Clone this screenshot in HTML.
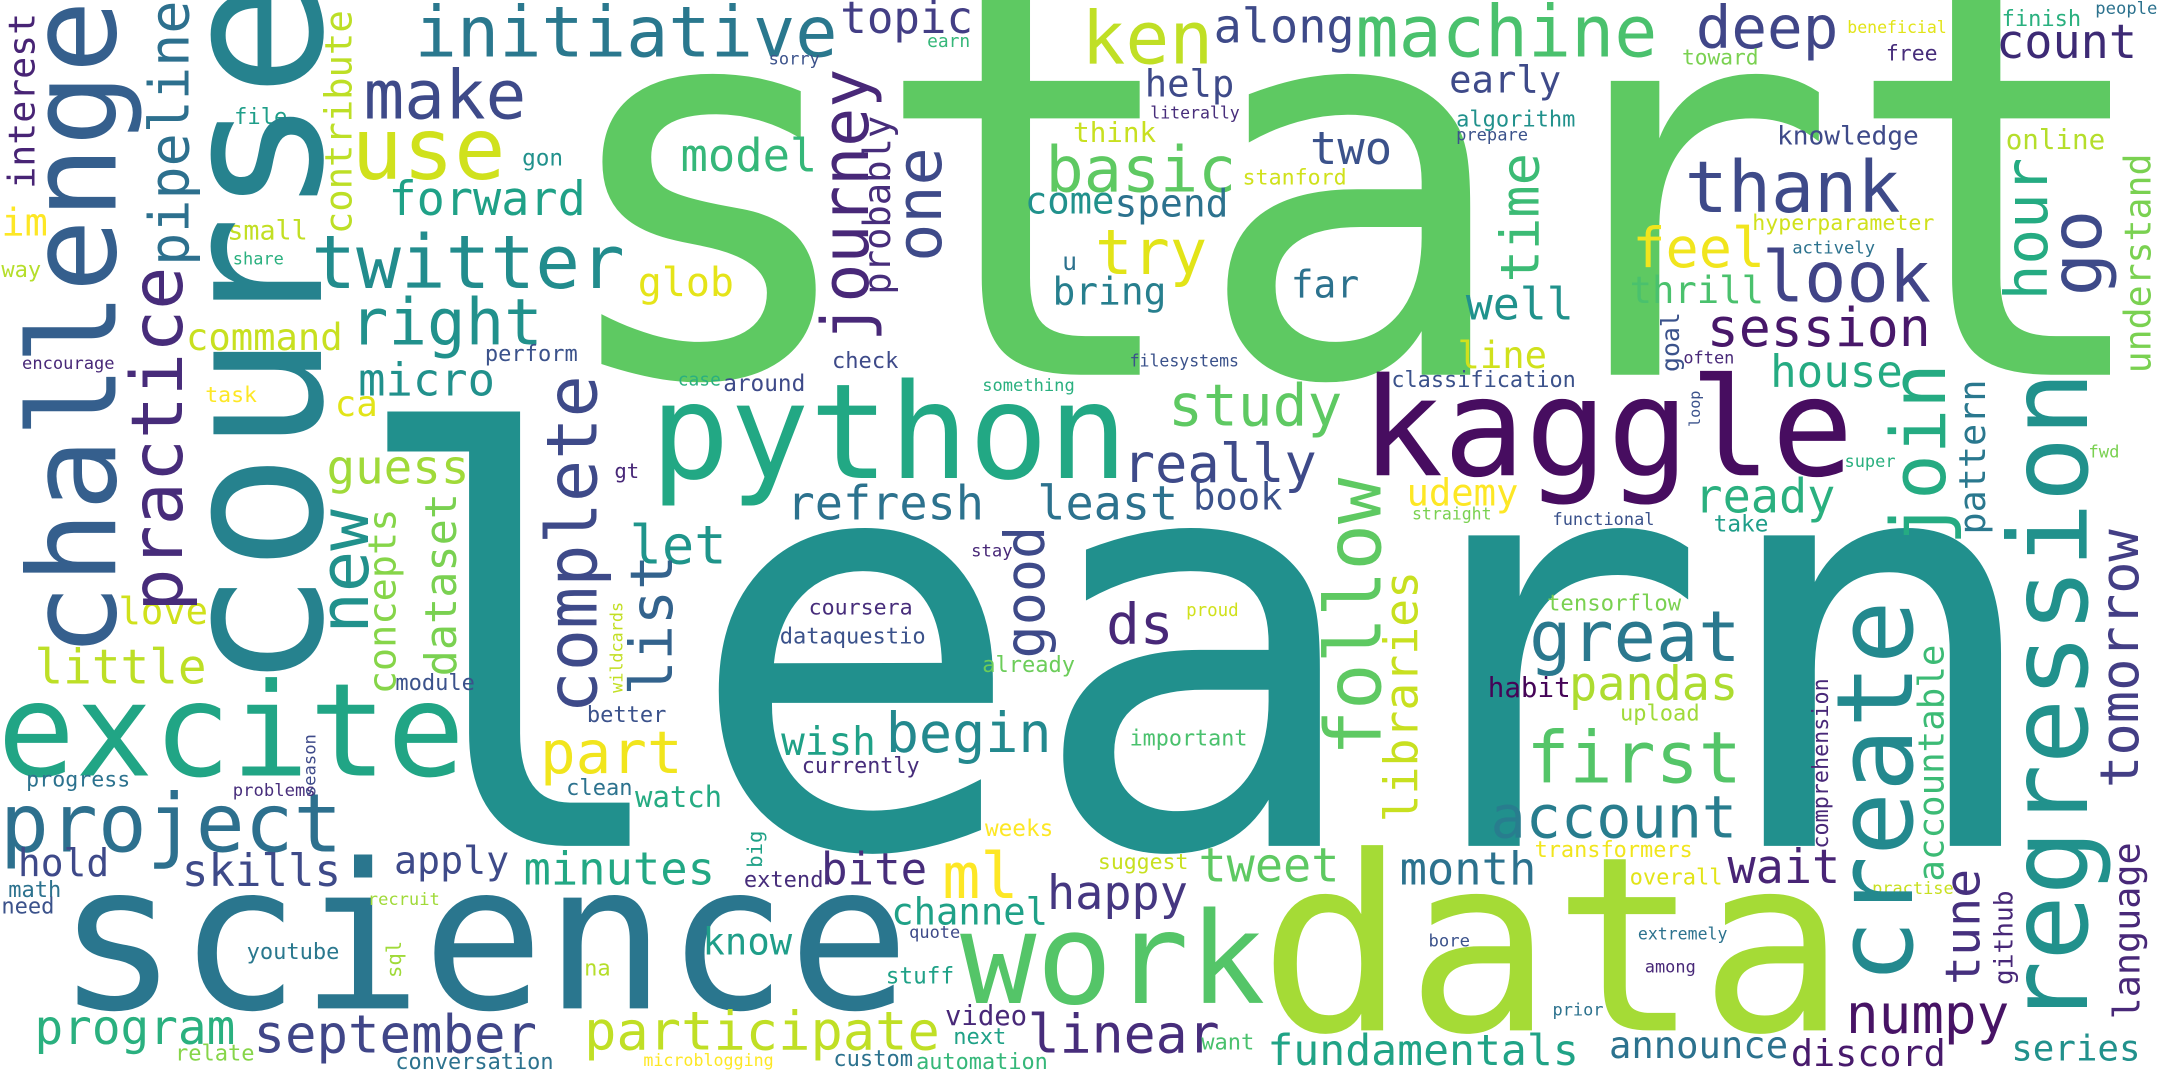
<!DOCTYPE html>
<html><head><meta charset="utf-8"><title>Word cloud</title>
<style>
html,body{margin:0;padding:0;background:#fff;overflow:hidden}
svg{display:block}
text{font-family:"DejaVu Sans Mono","Liberation Mono",monospace;}
</style></head><body>
<svg xmlns="http://www.w3.org/2000/svg" width="2160" height="1080" viewBox="0 0 1568 784">
<rect x="0" y="0" width="1568" height="784" fill="#ffffff"/>
<!-- horizontal words -->
<text x="396" y="272" font-size="390" fill="#5ec962">start</text>
<text x="249" y="614" font-size="412" fill="#21908d">learn</text>
<text x="41" y="732" font-size="147" fill="#2a768e">science</text>
<text x="914" y="748" font-size="177" fill="#a5db36">data</text>
<text x="988" y="345" font-size="99" fill="#470d60">kaggle</text>
<text x="472" y="347" font-size="96" fill="#22a884">python</text>
<text x="-2" y="563" font-size="94" fill="#21a585">excite</text>
<text x="697" y="728" font-size="92" fill="#54c568">work</text>
<text x="0" y="618" font-size="59" fill="#2d708e">project</text>
<text x="226" y="209" font-size="54" fill="#228c8d">twitter</text>
<text x="759" y="139" font-size="46" fill="#5ec962">basic</text>
<text x="1223" y="154" font-size="52" fill="#3e4a89">thank</text>
<text x="984" y="41" font-size="52" fill="#4ac16d">machine</text>
<text x="301" y="41" font-size="51" fill="#2a788e">initiative</text>
<text x="1108" y="568" font-size="52" fill="#54c568">first</text>
<text x="1110" y="480" font-size="51" fill="#2a788e">great</text>
<text x="1279" y="219" font-size="51" fill="#414487">look</text>
<text x="785" y="46" font-size="53" fill="#c0df25">ken</text>
<text x="264" y="86" font-size="49" fill="#3e4a89">make</text>
<text x="255" y="130" font-size="62" fill="#d0e11c">use</text>
<text x="254" y="250" font-size="46.5" fill="#21918c">right</text>
<text x="684" y="652" font-size="46" fill="#fde725">ml</text>
<text x="795" y="199" font-size="45" fill="#e2e418">try</text>
<text x="1231" y="35" font-size="43" fill="#404688">deep</text>
<text x="392" y="561" font-size="43" fill="#f1e51d">part</text>
<text x="1082" y="608" font-size="42.5" fill="#287d8e">account</text>
<text x="848" y="309" font-size="42" fill="#5ec962">study</text>
<text x="803" y="467" font-size="40.6" fill="#482878">ds</text>
<text x="643" y="546" font-size="40" fill="#23898e">begin</text>
<text x="1185" y="194" font-size="40" fill="#f1e51d">feel</text>
<text x="815" y="350" font-size="39" fill="#3e4a89">really</text>
<text x="424" y="762" font-size="39" fill="#c0df25">participate</text>
<text x="1340" y="750" font-size="39.4" fill="#471365">numpy</text>
<text x="1239" y="251" font-size="38.6" fill="#48186a">session</text>
<text x="746" y="764" font-size="38.6" fill="#472d7b">linear</text>
<text x="457" y="409" font-size="39" fill="#1f958b">let</text>
<text x="184" y="764" font-size="38" fill="#404688">september</text>
<text x="571" y="377" font-size="34" fill="#2c728e">refresh</text>
<text x="753" y="377" font-size="34" fill="#2c728e">least</text>
<text x="881" y="31" font-size="34" fill="#3e4a89">along</text>
<text x="1449" y="42" font-size="34" fill="#3d2a75">count</text>
<text x="1230" y="372" font-size="34" fill="#2ab07f">ready</text>
<text x="870" y="640" font-size="34" fill="#5ec962">tweet</text>
<text x="760" y="660" font-size="34" fill="#453781">happy</text>
<text x="1139" y="508" font-size="34" fill="#addc30">pandas</text>
<text x="1254" y="641" font-size="34" fill="#482475">wait</text>
<text x="282" y="156" font-size="34" fill="#1fa187">forward</text>
<text x="237" y="351" font-size="34.5" fill="#a0da39">guess</text>
<text x="25" y="496" font-size="34.6" fill="#bddf26">little</text>
<text x="25" y="758" font-size="34.6" fill="#2ab07f">program</text>
<text x="260" y="287" font-size="33" fill="#21918c">micro</text>
<text x="380" y="642" font-size="33" fill="#22a884">minutes</text>
<text x="1016" y="642" font-size="33" fill="#2c728e">month</text>
<text x="494" y="124" font-size="33" fill="#35b779">model</text>
<text x="951" y="119" font-size="33" fill="#3b528b">two</text>
<text x="1064" y="232" font-size="32.6" fill="#20928c">well</text>
<text x="610" y="24" font-size="32" fill="#433e85">topic</text>
<text x="1285" y="281" font-size="32" fill="#25ab82">house</text>
<text x="132" y="643" font-size="32" fill="#3e4a89">skills</text>
<text x="596" y="642" font-size="32" fill="#472d7b">bite</text>
<text x="920" y="773" font-size="31.3" fill="#20a386">fundamentals</text>
<text x="463" y="215" font-size="29" fill="#e5e419">glob</text>
<text x="567" y="548" font-size="28.6" fill="#1fa187">wish</text>
<text x="1" y="171" font-size="28" fill="#fde725">im</text>
<text x="286" y="634" font-size="27.8" fill="#3e4a89">apply</text>
<text x="13" y="636" font-size="27.5" fill="#3e4989">hold</text>
<text x="809" y="157" font-size="27.5" fill="#2c728e">spend</text>
<text x="764" y="221" font-size="27.5" fill="#277f8e">bring</text>
<text x="937" y="216" font-size="27.5" fill="#2c728e">far</text>
<text x="135" y="254" font-size="27" fill="#c8e020">command</text>
<text x="86" y="453" font-size="27" fill="#d0e11c">love</text>
<text x="831" y="70" font-size="27" fill="#3e4a89">help</text>
<text x="744" y="155" font-size="27" fill="#21918c">come</text>
<text x="866" y="370" font-size="27" fill="#3b528b">book</text>
<text x="1052" y="67" font-size="27" fill="#3e4a89">early</text>
<text x="1058" y="267" font-size="27" fill="#d0e11c">line</text>
<text x="1183" y="220" font-size="27" fill="#4ac16d">thrill</text>
<text x="1021" y="367" font-size="27" fill="#fde725">udemy</text>
<text x="510" y="693" font-size="27" fill="#1f9e89">know</text>
<text x="647" y="671" font-size="27" fill="#1fa187">channel</text>
<text x="1168" y="768" font-size="27" fill="#2c728e">announce</text>
<text x="1300" y="774" font-size="26.7" fill="#481a6c">discord</text>
<text x="1460" y="770" font-size="26" fill="#21918c">series</text>
<text x="243" y="302" font-size="26" fill="#e2e418">ca</text>
<text x="461" y="586" font-size="21" fill="#25ab82">watch</text>
<text x="779" y="103" font-size="20" fill="#c8e020">think</text>
<text x="1456" y="108" font-size="20" fill="#b5de2b">online</text>
<text x="1080" y="506" font-size="20" fill="#450457">habit</text>
<text x="686" y="744" font-size="19.8" fill="#482878">video</text>
<text x="1290" y="105" font-size="19" fill="#3e4a89">knowledge</text>
<text x="165" y="174" font-size="19.4" fill="#c2df23">small</text>
<text x="771" y="196" font-size="18" fill="#2c728e">u</text>
<text x="379" y="120" font-size="16.5" fill="#21918c">gon</text>
<text x="170" y="90" font-size="16" fill="#1f9e89">file</text>
<text x="1" y="201" font-size="16" fill="#b5de2b">way</text>
<text x="352" y="262" font-size="16" fill="#3b528b">perform</text>
<text x="149" y="292" font-size="15.6" fill="#fde725">task</text>
<text x="446" y="347" font-size="15" fill="#482878">gt</text>
<text x="604" y="267" font-size="16" fill="#3e4a89">check</text>
<text x="525" y="284" font-size="16.5" fill="#3e4a89">around</text>
<text x="1010" y="281" font-size="15.9" fill="#3b528b">classification</text>
<text x="902" y="134" font-size="15.7" fill="#d0e11c">stanford</text>
<text x="1453" y="19" font-size="16" fill="#2ab07f">finish</text>
<text x="1221" y="47" font-size="15.4" fill="#7ad151">toward</text>
<text x="1369" y="44" font-size="15.6" fill="#472d7b">free</text>
<text x="1057" y="92" font-size="16" fill="#21918c">algorithm</text>
<text x="1272" y="167" font-size="15.7" fill="#d0e11c">hyperparameter</text>
<text x="1244" y="386" font-size="16.5" fill="#1f9e89">take</text>
<text x="287" y="501" font-size="16" fill="#3b528b">module</text>
<text x="426" y="524" font-size="16" fill="#3b528b">better</text>
<text x="19" y="571" font-size="15.7" fill="#2c728e">progress</text>
<text x="411" y="577" font-size="16" fill="#2c728e">clean</text>
<text x="6" y="651" font-size="16" fill="#2c728e">math</text>
<text x="1" y="663" font-size="16" fill="#3b528b">need</text>
<text x="179" y="696" font-size="16" fill="#2a788e">youtube</text>
<text x="424" y="708" font-size="16" fill="#b5de2b">na</text>
<text x="127" y="770" font-size="16" fill="#86d549">relate</text>
<text x="287" y="776" font-size="15.9" fill="#2c728e">conversation</text>
<text x="587" y="446" font-size="15.7" fill="#472d7b">coursera</text>
<text x="566" y="467" font-size="16" fill="#3b528b">dataquestio</text>
<text x="713" y="488" font-size="16" fill="#6ccd5a">already</text>
<text x="582" y="561" font-size="15.8" fill="#472d7b">currently</text>
<text x="820" y="541" font-size="15.8" fill="#4ac16d">important</text>
<text x="715" y="607" font-size="16.5" fill="#fde725">weeks</text>
<text x="540" y="644" font-size="16" fill="#472d7b">extend</text>
<text x="797" y="631" font-size="15.6" fill="#c8e020">suggest</text>
<text x="643" y="714" font-size="16.5" fill="#1fa187">stuff</text>
<text x="692" y="758" font-size="16" fill="#1fa187">next</text>
<text x="872" y="762" font-size="16" fill="#4ac16d">want</text>
<text x="605" y="774" font-size="16" fill="#2c728e">custom</text>
<text x="665" y="776" font-size="15.9" fill="#35b779">automation</text>
<text x="1123" y="443" font-size="16.2" fill="#7ad151">tensorflow</text>
<text x="1176" y="523" font-size="16" fill="#a0da39">upload</text>
<text x="1114" y="622" font-size="15.9" fill="#f1e51d">transformers</text>
<text x="1183" y="642" font-size="16" fill="#e2e418">overall</text>
<text x="673" y="34" font-size="13" fill="#35b779">earn</text>
<text x="558" y="47" font-size="12.3" fill="#3b528b">sorry</text>
<text x="835" y="86" font-size="12" fill="#472d7b">literally</text>
<text x="820" y="266" font-size="12" fill="#3b528b">filesystems</text>
<text x="713" y="284" font-size="12.4" fill="#2ab07f">something</text>
<text x="1025" y="377" font-size="12" fill="#7ad151">straight</text>
<text x="1341" y="24" font-size="12" fill="#e2e418">beneficial</text>
<text x="1521" y="10" font-size="12.5" fill="#2c728e">people</text>
<text x="1057" y="102" font-size="12.4" fill="#3b528b">prepare</text>
<text x="1301" y="184" font-size="12.5" fill="#2c728e">actively</text>
<text x="1222" y="264" font-size="12.3" fill="#482878">often</text>
<text x="1339" y="339" font-size="12.3" fill="#2ab07f">super</text>
<text x="1516" y="332" font-size="12.5" fill="#7ad151">fwd</text>
<text x="1127" y="381" font-size="12.3" fill="#3b528b">functional</text>
<text x="169" y="192" font-size="12.3" fill="#2ab07f">share</text>
<text x="16" y="268" font-size="12.4" fill="#482878">encourage</text>
<text x="492" y="280" font-size="13" fill="#2ab07f">case</text>
<text x="169" y="578" font-size="12.5" fill="#472d7b">problems</text>
<text x="267" y="657" font-size="12.4" fill="#a0da39">recruit</text>
<text x="467" y="774" font-size="12.1" fill="#fde725">microblogging</text>
<text x="705" y="404" font-size="12.5" fill="#482878">stay</text>
<text x="861" y="447" font-size="12.7" fill="#d0e11c">proud</text>
<text x="660" y="681" font-size="12.3" fill="#3e4a89">quote</text>
<text x="1037" y="687" font-size="12.5" fill="#3b528b">bore</text>
<text x="1359" y="649" font-size="12.3" fill="#c8e020">practise</text>
<text x="1189" y="682" font-size="12" fill="#2c728e">extremely</text>
<text x="1194" y="706" font-size="12.3" fill="#482878">among</text>
<text x="1127" y="737" font-size="12.3" fill="#2c728e">prior</text>
<!-- vertical words (read bottom to top) -->
<text transform="translate(84,477) rotate(-90)" font-size="88" fill="#355f8d">challenge</text>
<text transform="translate(233,501) rotate(-90)" font-size="143" fill="#26828e">course</text>
<text transform="translate(25,137) rotate(-90)" font-size="26.5" fill="#482475">interest</text>
<text transform="translate(137,193) rotate(-90)" font-size="40" fill="#2d708e">pipeline</text>
<text transform="translate(132,444) rotate(-90)" font-size="52" fill="#472c7a">practice</text>
<text transform="translate(255,170) rotate(-90)" font-size="27" fill="#bddf26">contribute</text>
<text transform="translate(630,248) rotate(-90)" font-size="47" fill="#482878">journey</text>
<text transform="translate(646,214) rotate(-90)" font-size="27" fill="#472d7b">probably</text>
<text transform="translate(683,190) rotate(-90)" font-size="46" fill="#3e4a89">one</text>
<text transform="translate(433,518) rotate(-90)" font-size="51" fill="#3e4a89">complete</text>
<text transform="translate(488,505) rotate(-90)" font-size="42.5" fill="#33638d">list</text>
<text transform="translate(1002,549) rotate(-90)" font-size="56" fill="#5ec962">follow</text>
<text transform="translate(1117,205) rotate(-90)" font-size="39" fill="#3cbb75">time</text>
<text transform="translate(1486,218) rotate(-90)" font-size="43" fill="#25ab82">hour</text>
<text transform="translate(1525,215) rotate(-90)" font-size="52" fill="#3e4a89">go</text>
<text transform="translate(1561,271) rotate(-90)" font-size="26.5" fill="#7ad151">understand</text>
<text transform="translate(1219,270) rotate(-90)" font-size="18" fill="#3b528b">goal</text>
<text transform="translate(1234,310) rotate(-90)" font-size="11" fill="#3b528b">loop</text>
<text transform="translate(1412,396) rotate(-90)" font-size="55" fill="#25ab82">join</text>
<text transform="translate(1441,388) rotate(-90)" font-size="26.7" fill="#2a788e">pattern</text>
<text transform="translate(1515,745) rotate(-90)" font-size="79" fill="#21918c">regression</text>
<text transform="translate(267,460) rotate(-90)" font-size="50" fill="#21918c">new</text>
<text transform="translate(287,504) rotate(-90)" font-size="28" fill="#86d549">concepts</text>
<text transform="translate(331,491) rotate(-90)" font-size="31.6" fill="#7ad151">dataset</text>
<text transform="translate(452,503) rotate(-90)" font-size="12.2" fill="#c2df23">wildcards</text>
<text transform="translate(229,578) rotate(-90)" font-size="12.5" fill="#3e4a89">season</text>
<text transform="translate(758,478) rotate(-90)" font-size="40" fill="#3e4a89">good</text>
<text transform="translate(1029,597) rotate(-90)" font-size="33.7" fill="#c8e020">libraries</text>
<text transform="translate(553,630) rotate(-90)" font-size="15" fill="#1fa187">big</text>
<text transform="translate(291,710) rotate(-90)" font-size="15" fill="#a0da39">sql</text>
<text transform="translate(1327,616) rotate(-90)" font-size="15.8" fill="#482878">comprehension</text>
<text transform="translate(1388,714) rotate(-90)" font-size="77" fill="#23898e">create</text>
<text transform="translate(1411,640) rotate(-90)" font-size="26" fill="#3cbb75">accountable</text>
<text transform="translate(1437,715) rotate(-90)" font-size="35" fill="#46307e">tune</text>
<text transform="translate(1461,715) rotate(-90)" font-size="19" fill="#482878">github</text>
<text transform="translate(1552,572) rotate(-90)" font-size="39" fill="#433e85">tomorrow</text>
<text transform="translate(1553,740) rotate(-90)" font-size="26.7" fill="#482878">language</text>
</svg>
</body></html>
